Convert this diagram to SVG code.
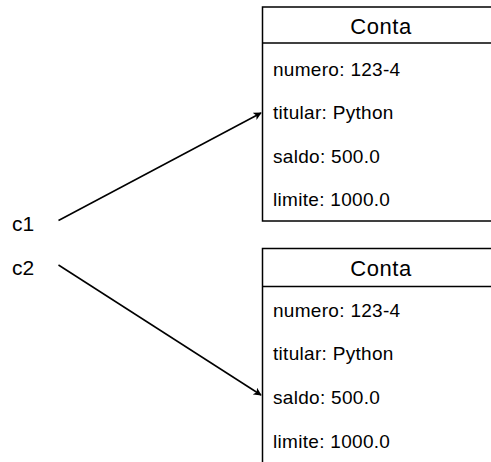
<svg xmlns="http://www.w3.org/2000/svg" width="491" height="462" viewBox="0 0 491 462">
<style>
.box{fill:#fff;stroke:#000;stroke-width:1.5}
.hdr{font-family:"Liberation Sans",Arial,sans-serif;font-size:22px;fill:#000;text-anchor:middle;letter-spacing:0.6px}
.row{font-family:"Liberation Sans",Arial,sans-serif;font-size:19px;fill:#000;letter-spacing:0.3px}
.lbl{font-family:"Liberation Sans",Arial,sans-serif;font-size:21px;fill:#000}
.conn{stroke:#000;stroke-width:1.5;fill:none}
</style>
<defs>
<marker id="arr" viewBox="0 0 10 10" refX="9" refY="5" markerWidth="8" markerHeight="8" markerUnits="userSpaceOnUse" orient="auto">
<path d="M0,0 L10,5 L0,10 L2.5,5 Z" fill="#000"/>
</marker>
</defs>
<rect width="491" height="462" fill="#fff"/>
<g id="conta1">
<rect class="box" x="262.5" y="7" width="240" height="214"/>
<line class="box" x1="262.5" y1="43" x2="502" y2="43"/>
<text class="hdr" x="381" y="33.5">Conta</text>
<text class="row" x="273" y="76">numero: 123-4</text>
<text class="row" x="273" y="119">titular: Python</text>
<text class="row" x="273" y="163">saldo: 500.0</text>
<text class="row" x="273" y="206">limite: 1000.0</text>
</g>
<g id="conta2">
<rect class="box" x="262.5" y="248.5" width="240" height="230"/>
<line class="box" x1="262.5" y1="286.5" x2="502" y2="286.5"/>
<text class="hdr" x="381" y="276">Conta</text>
<text class="row" x="273" y="317">numero: 123-4</text>
<text class="row" x="273" y="360">titular: Python</text>
<text class="row" x="273" y="404">saldo: 500.0</text>
<text class="row" x="273" y="448">limite: 1000.0</text>
</g>
<g id="c1"><text class="lbl" x="12" y="231">c1</text></g>
<g id="c2"><text class="lbl" x="12" y="275">c2</text></g>
<g id="connectors">
<line class="conn" x1="58.5" y1="220.5" x2="261" y2="113" marker-end="url(#arr)"/>
<line class="conn" x1="58.5" y1="265" x2="261" y2="395" marker-end="url(#arr)"/>
</g>
</svg>
